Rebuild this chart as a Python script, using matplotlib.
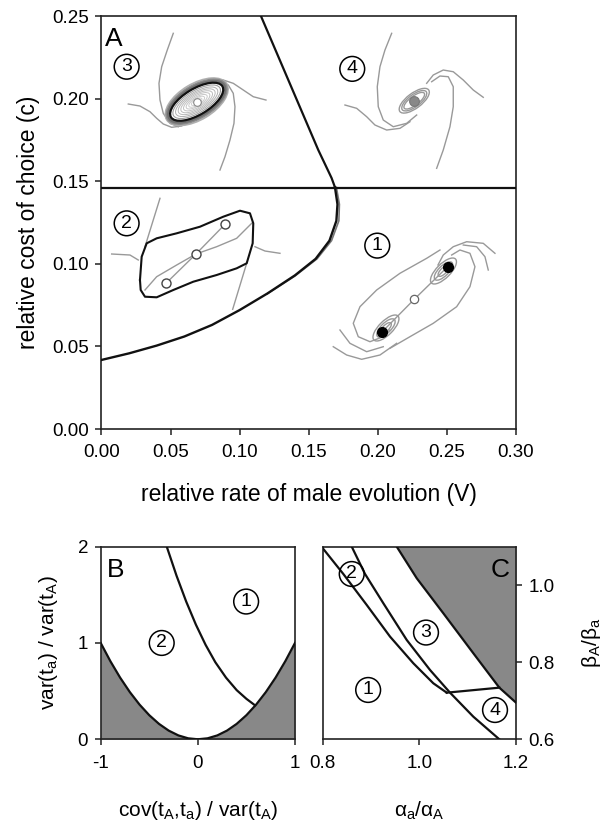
import matplotlib
matplotlib.use('Agg')
import matplotlib.pyplot as plt
from matplotlib.patches import Ellipse
from matplotlib.transforms import ScaledTranslation

plt.rcParams['font.family'] = ['Liberation Sans', 'DejaVu Sans']
plt.rcParams['mathtext.fontset'] = 'custom'
plt.rcParams['mathtext.rm'] = 'Liberation Sans'
plt.rcParams['mathtext.it'] = 'Liberation Sans:italic'
plt.rcParams['mathtext.sf'] = 'Liberation Sans'
plt.rcParams['axes.unicode_minus'] = False

# ---------------- Panel A data ----------------
a_xticks = [0.00, 0.05, 0.10, 0.15, 0.20, 0.25, 0.30]
a_yticks = [0.00, 0.05, 0.10, 0.15, 0.20, 0.25]
a_hline_c = 0.146
a_upper_V = [0.1154, 0.1569, 0.1665, 0.1690]
a_upper_c = [0.2500, 0.1689, 0.1520, 0.1463]
a_lower_V = [0.000, 0.020, 0.040, 0.060, 0.080, 0.100, 0.120, 0.140, 0.155, 0.165, 0.1700, 0.1708, 0.1690]
a_lower_c = [0.0418, 0.0458, 0.0505, 0.0560, 0.0630, 0.0720, 0.0820, 0.0930, 0.1030, 0.1140, 0.1260, 0.1360, 0.1463]
a_lower2_V = [0.120, 0.140, 0.156, 0.1665, 0.1718, 0.1722, 0.1700]
a_lower2_c = [0.0818, 0.0926, 0.1030, 0.1140, 0.1260, 0.1360, 0.1463]
a_region_labels = ['3', '4', '2', '1']
a_region_V = [0.0182, 0.1815, 0.0182, 0.1996]
a_region_c = [0.2193, 0.2180, 0.1245, 0.1110]

# inset 3 (limit cycle around unstable focus)
i3_center = (0.0689, 0.1981)
i3_ell_w = [70, 67, 64, 60, 54, 48, 42, 36, 30, 24, 18, 12]
i3_ell_h = [36, 32, 29, 26, 22, 19, 16.5, 14, 11.5, 9, 7, 5]
i3_ell_col = ['#b0b0b0', '#8a8a8a', '#707070', '#111111', '#a0a0a0', '#b0b0b0', '#b8b8b8',
              '#bdbdbd', '#c2c2c2', '#c8c8c8', '#cccccc', '#d0d0d0']
i3_ell_lw = [1.2, 1.8, 1.8, 1.6, 0.8, 0.7, 0.7, 0.7, 0.7, 0.7, 0.7, 0.7]
i3_angle = 31
i3_a_V = [0.05196, 0.04762, 0.04357, 0.04161, 0.04234, 0.04472, 0.04957, 0.05558]
i3_a_c = [0.23952, 0.22941, 0.21930, 0.20925, 0.19914, 0.19109, 0.18504, 0.18298]
i3_b_V = [0.01940, 0.02786, 0.03510, 0.03995, 0.04472, 0.05080, 0.05804]
i3_b_c = [0.19672, 0.19551, 0.19206, 0.18807, 0.18462, 0.18262, 0.18341]
i3_c_V = [0.11905, 0.10986, 0.10262, 0.09538, 0.08815, 0.08337]
i3_c_c = [0.19914, 0.20114, 0.20520, 0.20925, 0.21125, 0.21167]
i3_d_V = [0.08576, 0.08938, 0.09300, 0.09589, 0.09661, 0.09538, 0.09177, 0.08699]
i3_d_c = [0.15677, 0.16482, 0.17493, 0.18504, 0.19509, 0.20320, 0.20822, 0.21022]

# inset 4 (stable focus)
i4_center = (0.22637, 0.19872)
i4_ell_w = [36, 30, 25]
i4_ell_h = [15, 12, 9]
i4_angle = 37
i4_a_V = [0.21002, 0.20517, 0.20155, 0.19960, 0.20032, 0.20394, 0.21118, 0.22087, 0.22811]
i4_a_c = [0.23952, 0.22941, 0.21930, 0.20719, 0.19509, 0.18704, 0.18298, 0.18504, 0.19006]
i4_b_V = [0.17622, 0.18469, 0.19193, 0.19793, 0.20640, 0.21602, 0.22326]
i4_b_c = [0.19612, 0.19412, 0.18904, 0.18401, 0.18098, 0.18201, 0.18601]
i4_c_V = [0.27631, 0.26907, 0.26184, 0.25460, 0.24736, 0.24012, 0.23535]
i4_c_c = [0.20078, 0.20520, 0.21125, 0.21627, 0.21730, 0.21428, 0.20925]
i4_d_V = [0.24258, 0.24736, 0.25221, 0.25460, 0.25460, 0.25098, 0.24497, 0.23897]
i4_d_c = [0.15780, 0.16888, 0.18298, 0.19509, 0.20719, 0.21325, 0.21367, 0.21022]

# inset 2 (limit cycle around three equilibria)
i2_cyc_V = [0.02786, 0.02909, 0.03271, 0.03995, 0.05442, 0.07128, 0.08815, 0.10023, 0.10747,
            0.10986, 0.10942, 0.10508, 0.09784, 0.08337, 0.06644, 0.05196, 0.03995, 0.03148,
            0.02837, 0.02786]
i2_cyc_c = [0.09019, 0.10429, 0.11240, 0.11543, 0.11846, 0.12245, 0.12851, 0.13214, 0.13056,
            0.12451, 0.11240, 0.10030, 0.09727, 0.09322, 0.08916, 0.08414, 0.07972, 0.08008,
            0.08414, 0.09019]
i2_pts_V = [0.04668, 0.06839, 0.08938]
i2_pts_c = [0.08819, 0.10593, 0.12390]
i2_top_V = [0.04234, 0.03148]
i2_top_c = [0.13964, 0.11035]
i2_left_V = [0.00738, 0.02063, 0.02663]
i2_left_c = [0.10593, 0.10532, 0.10230]
i2_right_V = [0.12918, 0.11833, 0.11109]
i2_right_c = [0.10635, 0.10774, 0.11035]
i2_bot_V = [0.09495, 0.10508]
i2_bot_c = [0.07245, 0.10030]
i2_inner_V = [0.03148, 0.03995, 0.05442, 0.06839, 0.08337, 0.09784, 0.10870]
i2_inner_c = [0.08414, 0.09219, 0.09927, 0.10593, 0.11035, 0.11543, 0.12451]

# inset 1 (two stable nodes and a saddle)
i1_nodes_V = [0.20278, 0.25054]
i1_nodes_c = [0.05853, 0.09824]
i1_saddle = (0.22637, 0.07851)
i1_loop_V = [0.20589, 0.24751]
i1_loop_c = [0.06114, 0.09564]
i1_loop_w = [34, 24, 14]
i1_loop_h = [14, 10, 6]
i1_L1_V = [0.24497, 0.23535, 0.21602, 0.19916, 0.18708, 0.18223, 0.18585, 0.19431, 0.20394, 0.20879]
i1_L1_c = [0.10835, 0.10332, 0.09425, 0.08414, 0.07403, 0.06398, 0.05587, 0.05284, 0.05587, 0.05992]
i1_L2_V = [0.20879, 0.22326, 0.24012, 0.25706, 0.26668, 0.27030, 0.26668, 0.25944, 0.25344]
i1_L2_c = [0.04885, 0.05587, 0.06398, 0.07403, 0.08613, 0.09824, 0.10635, 0.10835, 0.10532]
i1_L3_V = [0.16775, 0.17745, 0.18831, 0.20155, 0.21364]
i1_L3_c = [0.04982, 0.04479, 0.04219, 0.04479, 0.05187]
i1_L4_V = [0.17260, 0.17984, 0.19193, 0.20394]
i1_L4_c = [0.05992, 0.05187, 0.04679, 0.04982]
i1_L5_V = [0.28478, 0.27631, 0.26430, 0.25460, 0.24736, 0.24353]
i1_L5_c = [0.10635, 0.11240, 0.11337, 0.11035, 0.10532, 0.09927]
i1_L6_V = [0.27993, 0.27754, 0.27153, 0.26184]
i1_L6_c = [0.09624, 0.10429, 0.11035, 0.11138]

# ---------------- Panel B data ----------------
b_par_x = [-1.0, -0.9, -0.8, -0.7, -0.6, -0.5, -0.4, -0.3, -0.2, -0.1, 0.0,
           0.1, 0.2, 0.3, 0.4, 0.5, 0.6, 0.7, 0.8, 0.9, 1.0]
b_par_y = [1.0, 0.81, 0.64, 0.49, 0.36, 0.25, 0.16, 0.09, 0.04, 0.01, 0.0,
           0.01, 0.04, 0.09, 0.16, 0.25, 0.36, 0.49, 0.64, 0.81, 1.0]
b_div_x = [-0.32, -0.22, -0.12, -0.02, 0.08, 0.18, 0.29, 0.40, 0.50, 0.588]
b_div_y = [2.00, 1.70, 1.43, 1.19, 0.98, 0.80, 0.64, 0.51, 0.42, 0.353]
b_labels = ['1', '2']
b_lab_x = [0.497, -0.372]
b_lab_y = [1.43, 1.00]

# ---------------- Panel C data ----------------
c_c1_x = [0.800, 0.8426, 0.8910, 0.9393, 0.9875, 1.0288, 1.0566]
c_c1_y = [1.096, 1.0291, 0.9487, 0.8664, 0.7973, 0.7454, 0.7210]
c_c2_x = [0.860, 0.8875, 0.9254, 0.9738, 1.0220, 1.0634, 1.1116, 1.1654]
c_c2_y = [1.100, 1.0291, 0.9531, 0.8578, 0.7799, 0.7210, 0.6587, 0.600]
c_h_x = [1.0566, 1.1654]
c_h_y = [0.7210, 0.7340]
c_g_x = [0.9531, 0.9945, 1.0495, 1.1116, 1.1654, 1.2000]
c_g_y = [1.100, 1.0180, 0.9271, 0.8233, 0.7340, 0.6950]
c_labels = ['2', '3', '1', '4']
c_lab_x = [0.860, 1.0137, 0.894, 1.1565]
c_lab_y = [1.029, 0.877, 0.728, 0.676]

# ---------------- Figure ----------------
fig = plt.figure(figsize=(6.03, 8.25), dpi=100)
axA = fig.add_axes([0.1683, 0.48, 0.6874, 0.5006])
axB = fig.add_axes([0.1670, 0.1039, 0.3222, 0.2335])
axC = fig.add_axes([0.5352, 0.1039, 0.3206, 0.2335])

TICK_FS = 13.5
A_LAB_FS = 16.5
BC_LAB_FS = 15
GRAY = '#999999'
for ax in (axA, axB, axC):
    for s in ax.spines.values():
        s.set_linewidth(1.2)
        s.set_color('#222222')
    ax.tick_params(direction='out', length=4, width=1.1, labelsize=TICK_FS, pad=5, color='#222222')
    ax.tick_params(axis='x', pad=7)

def circ_label(ax, x, y, s):
    ax.text(x, y, s, ha='center', va='center', fontsize=14, zorder=6,
            bbox=dict(boxstyle='circle,pad=0.2', fc='none', ec='black', lw=1.1))

def ellipse(ax, center, w_px, h_px, ang, color, lw, z=3):
    tr = fig.dpi_scale_trans + ScaledTranslation(center[0], center[1], ax.transData)
    e = Ellipse((0, 0), w_px / fig.dpi, h_px / fig.dpi, angle=ang, transform=tr,
                fill=False, ec=color, lw=lw, zorder=z)
    ax.add_patch(e)

# ----- Panel A -----
axA.set_xlim(0, 0.30)
axA.set_ylim(0, 0.25)
axA.set_xticks(a_xticks)
axA.set_yticks(a_yticks)
axA.set_xticklabels([f'{v:.2f}' for v in a_xticks])
axA.set_yticklabels([f'{v:.2f}' for v in a_yticks])
axA.set_xlabel('relative rate of male evolution (V)', fontsize=A_LAB_FS, labelpad=16)
axA.set_ylabel('relative cost of choice (c)', fontsize=A_LAB_FS, labelpad=9)

axA.axhline(a_hline_c, color='#111111', lw=1.6, zorder=4)
axA.plot(a_upper_V, a_upper_c, color='#111111', lw=1.6, zorder=4)
axA.plot(a_lower2_V, a_lower2_c, color='#777777', lw=1.2, zorder=3)
axA.plot(a_lower_V, a_lower_c, color='#111111', lw=1.7, zorder=4)
for s, v, c in zip(a_region_labels, a_region_V, a_region_c):
    circ_label(axA, v, c, s)
axA.text(0.008, 0.927, 'A', transform=axA.transAxes, fontsize=19, ha='left', va='baseline')

# inset 3
for trV, trc in [(i3_a_V, i3_a_c), (i3_b_V, i3_b_c), (i3_c_V, i3_c_c), (i3_d_V, i3_d_c)]:
    axA.plot(trV, trc, color=GRAY, lw=1.0, zorder=2)
for w, h, col, lw in zip(i3_ell_w, i3_ell_h, i3_ell_col, i3_ell_lw):
    ellipse(axA, i3_center, w, h, i3_angle, col, lw)
axA.plot([i3_center[0]], [i3_center[1]], 'o', ms=5.5, mfc='white', mec='#888888', mew=0.8, zorder=5)

# inset 4
for trV, trc in [(i4_a_V, i4_a_c), (i4_b_V, i4_b_c), (i4_c_V, i4_c_c), (i4_d_V, i4_d_c)]:
    axA.plot(trV, trc, color=GRAY, lw=1.0, zorder=2)
for w, h in zip(i4_ell_w, i4_ell_h):
    ellipse(axA, i4_center, w, h, i4_angle, GRAY, 1.0)
axA.plot([i4_center[0]], [i4_center[1]], 'o', ms=7, mfc='#888888', mec='#777777', mew=0.8, zorder=5)

# inset 2
for trV, trc in [(i2_top_V, i2_top_c), (i2_left_V, i2_left_c), (i2_right_V, i2_right_c),
                 (i2_bot_V, i2_bot_c), (i2_inner_V, i2_inner_c), (i2_pts_V, i2_pts_c)]:
    axA.plot(trV, trc, color=GRAY, lw=1.0, zorder=2)
axA.plot(i2_cyc_V, i2_cyc_c, color='#111111', lw=1.5, zorder=3, solid_joinstyle='round')
axA.plot(i2_pts_V, i2_pts_c, 'o', ms=6.5, mfc='white', mec='#444444', mew=1.0, ls='none', zorder=5)

# inset 1
for trV, trc in [(i1_L1_V, i1_L1_c), (i1_L2_V, i1_L2_c), (i1_L3_V, i1_L3_c),
                 (i1_L4_V, i1_L4_c), (i1_L5_V, i1_L5_c), (i1_L6_V, i1_L6_c)]:
    axA.plot(trV, trc, color=GRAY, lw=1.0, zorder=2)
for lv, lc in zip(i1_loop_V, i1_loop_c):
    for w, h in zip(i1_loop_w, i1_loop_h):
        ellipse(axA, (lv, lc), w, h, 45, GRAY, 1.0)
axA.plot([i1_nodes_V[0], i1_saddle[0], i1_nodes_V[1]], [i1_nodes_c[0], i1_saddle[1], i1_nodes_c[1]],
         color=GRAY, lw=1.0, zorder=2)
axA.plot(i1_nodes_V, i1_nodes_c, 'o', ms=7, mfc='black', mec='black', ls='none', zorder=5)
axA.plot([i1_saddle[0]], [i1_saddle[1]], 'o', ms=6, mfc='white', mec='#666666', mew=0.9, zorder=5)

# ----- Panel B -----
axB.set_xlim(-1, 1)
axB.set_ylim(0, 2)
axB.set_xticks([-1, 0, 1])
axB.set_yticks([0, 1, 2])
axB.fill_between(b_par_x, 0, b_par_y, color='#888888', lw=0, zorder=1)
axB.plot(b_par_x, b_par_y, color='#111111', lw=1.6, zorder=3)
axB.plot(b_div_x, b_div_y, color='#111111', lw=1.6, zorder=3)
for s, x, y in zip(b_labels, b_lab_x, b_lab_y):
    circ_label(axB, x, y, s)
axB.text(0.034, 0.841, 'B', transform=axB.transAxes, fontsize=19, ha='left', va='baseline')
axB.set_xlabel(r'cov(t$_\mathregular{A}$,t$_\mathregular{a}$) / var(t$_\mathregular{A}$)',
               fontsize=BC_LAB_FS, labelpad=20)
axB.set_ylabel(r'var(t$_\mathregular{a}$) / var(t$_\mathregular{A}$)', fontsize=BC_LAB_FS, labelpad=13)

# ----- Panel C -----
axC.set_xlim(0.8, 1.2)
axC.set_ylim(0.6, 1.1)
axC.set_xticks([0.8, 1.0, 1.2])
axC.set_yticks([0.6, 0.8, 1.0])
axC.set_xticklabels(['0.8', '1.0', '1.2'])
axC.set_yticklabels(['0.6', '0.8', '1.0'])
axC.yaxis.tick_right()
axC.yaxis.set_label_position('right')
axC.fill_between(c_g_x, c_g_y, 1.1, color='#888888', lw=0, zorder=1)
axC.plot(c_g_x, c_g_y, color='#111111', lw=1.6, zorder=3)
axC.plot(c_c1_x, c_c1_y, color='#111111', lw=1.6, zorder=3)
axC.plot(c_c2_x, c_c2_y, color='#111111', lw=1.6, zorder=3)
axC.plot(c_h_x, c_h_y, color='#111111', lw=1.6, zorder=3)
for s, x, y in zip(c_labels, c_lab_x, c_lab_y):
    circ_label(axC, x, y, s)
axC.text(0.969, 0.841, 'C', transform=axC.transAxes, fontsize=19, ha='right', va='baseline')
axC.set_xlabel(r'α$_\mathregular{a}$/α$_\mathregular{A}$', fontsize=BC_LAB_FS, labelpad=20)
axC.set_ylabel(r'β$_\mathregular{A}$/β$_\mathregular{a}$', fontsize=BC_LAB_FS, labelpad=18)

fig.savefig('out.png', dpi=100)
